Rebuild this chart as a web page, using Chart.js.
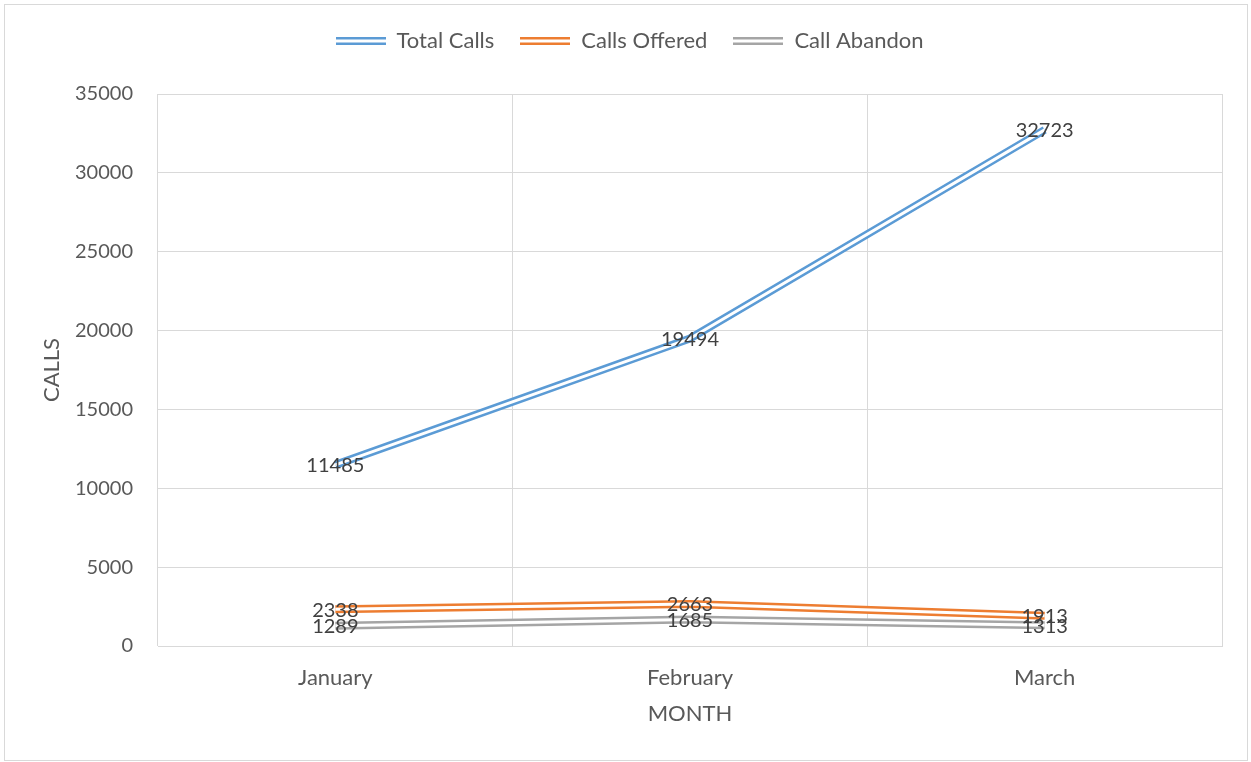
<!DOCTYPE html>
<html>
<head>
<meta charset="utf-8">
<script src="https://cdn.jsdelivr.net/npm/chart.js@4/dist/chart.umd.min.js"></script>
<style>
  html, body { margin: 0; padding: 0; background: #ffffff; }
  #wrap { position: relative; width: 1251px; height: 762px; }
  #frame { position: absolute; left: 4px; top: 4px; width: 1242px; height: 755px; border: 1px solid #d9d9d9; pointer-events: none; }
</style>
</head>
<body>
<div id="wrap">
  <canvas id="c"></canvas>
  <div id="frame"></div>
</div>
<script>
const months = ['January', 'February', 'March'];
const totalCalls = [11485, 19494, 32723];
const callsOffered = [2338, 2663, 1913];
const callAbandon = [1289, 1685, 1313];
const seriesNames = ['Total Calls', 'Calls Offered', 'Call Abandon'];
const seriesColors = ['#5B9BD5', '#ED7D31', '#A5A5A5'];
const yTicks = { min: 0, max: 35000, step: 5000 };

const FONT = 'Lato, "Open Sans", sans-serif';
const TEXT_SIZE = 22, NUM_SIZE = 20;
const OUTER = 8, INNER = 3;

function doubleLineImage(color) {
  const cv = document.createElement('canvas');
  cv.width = 50; cv.height = OUTER;
  const g = cv.getContext('2d');
  g.fillStyle = color; g.fillRect(0, 0, 50, OUTER);
  g.fillStyle = '#ffffff'; g.fillRect(0, (OUTER - INNER) / 2, 50, INNER);
  return cv;
}
const legendImgs = seriesColors.map(doubleLineImage);

const legendSpacePlugin = {
  id: 'legendSpace',
  afterInit(chart) {
    const lg = chart.legend;
    if (lg && !lg._patched) {
      const f = lg.fit.bind(lg);
      lg.fit = function () { f(); if (this.height) this.height += 32; };
      lg._patched = true;
    }
  }
};

const doubleLinePlugin = {
  id: 'doubleLine',
  afterDatasetDraw(chart, args) {
    const pts = args.meta.data;
    if (!pts.length) return;
    const ctx = chart.ctx;
    ctx.save();
    ctx.strokeStyle = '#ffffff';
    ctx.lineWidth = INNER;
    ctx.lineJoin = 'round';
    ctx.beginPath();
    pts.forEach((p, i) => { if (i === 0) ctx.moveTo(p.x, p.y); else ctx.lineTo(p.x, p.y); });
    ctx.stroke();
    ctx.restore();
  }
};

const dataLabelPlugin = {
  id: 'dataLabels',
  afterDatasetsDraw(chart) {
    const ctx = chart.ctx;
    ctx.save();
    ctx.font = NUM_SIZE + 'px ' + FONT;
    ctx.fillStyle = '#404040';
    ctx.textAlign = 'center';
    ctx.textBaseline = 'middle';
    chart.data.datasets.forEach((ds, di) => {
      const meta = chart.getDatasetMeta(di);
      meta.data.forEach((p, i) => {
        ctx.fillText(String(ds.data[i]), p.x, p.y + 1);
      });
    });
    ctx.restore();
  }
};

const seriesData = [totalCalls, callsOffered, callAbandon];

new Chart(document.getElementById('c'), {
  type: 'line',
  data: {
    labels: months,
    datasets: seriesData.map((d, i) => ({
      label: seriesNames[i],
      data: d,
      borderColor: seriesColors[i],
      backgroundColor: seriesColors[i],
      borderWidth: OUTER,
      pointRadius: 0,
      pointHoverRadius: 0,
      tension: 0,
      fill: false,
      borderJoinStyle: 'round',
      pointStyle: legendImgs[i]
    }))
  },
  options: {
    responsive: true,
    maintainAspectRatio: false,
    animation: false,
    layout: { padding: { left: 37, right: 29, top: 4, bottom: 31 } },
    plugins: {
      tooltip: { enabled: false },
      legend: {
        position: 'top',
        labels: {
          usePointStyle: true,
          pointStyleWidth: 50,
          padding: 26,
          color: '#595959',
          font: { family: FONT, size: TEXT_SIZE }
        }
      }
    },
    scales: {
      x: {
        offset: true,
        grid: { offset: true, color: '#d9d9d9', drawTicks: false },
        border: { color: '#d9d9d9' },
        ticks: { color: '#595959', font: { family: FONT, size: TEXT_SIZE }, padding: 19 },
        title: { display: true, text: 'MONTH', color: '#595959', font: { family: FONT, size: TEXT_SIZE }, padding: { top: 4, bottom: 4 } },
        afterFit(s) { s.height = 85; }
      },
      y: {
        min: yTicks.min, max: yTicks.max,
        grid: { color: '#d9d9d9', drawTicks: false },
        border: { display: false },
        ticks: {
          stepSize: yTicks.step, color: '#595959', font: { family: FONT, size: NUM_SIZE }, padding: 25,
          callback: (v) => String(v)
        },
        title: { display: true, text: 'CALLS', color: '#595959', font: { family: FONT, size: TEXT_SIZE }, padding: { top: 2, bottom: 4 } },
        afterFit(s) { s.width = 121; }
      }
    }
  },
  plugins: [legendSpacePlugin, doubleLinePlugin, dataLabelPlugin]
});
</script>
</body>
</html>
